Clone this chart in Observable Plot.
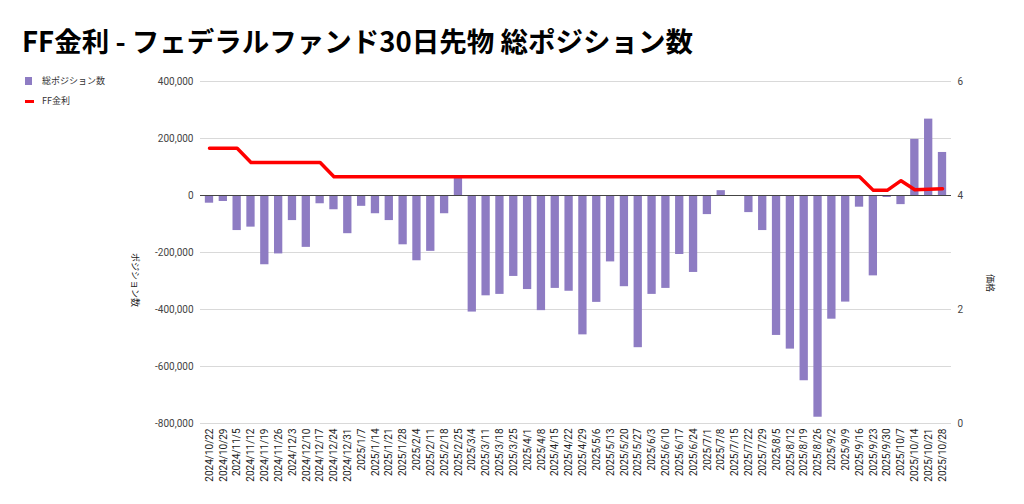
<!DOCTYPE html>
<html><head><meta charset="utf-8">
<script src="https://cdn.jsdelivr.net/npm/d3@7"></script>
<script src="https://cdn.jsdelivr.net/npm/@observablehq/plot@0.6"></script>
<style>
body{margin:0;background:#fff;}
#wrap{position:relative;width:1024px;height:504px;font-family:Roboto,"Noto Sans CJK JP",sans-serif;overflow:hidden;}
#title{position:absolute;left:22px;top:24px;font-weight:bold;font-size:27.5px;font-family:"Liberation Sans Narrow","Noto Sans CJK JP",sans-serif;color:#000;white-space:nowrap;line-height:32px;}
#chart{position:absolute;left:0;top:0;}
.leg{position:absolute;left:25px;font-size:9px;color:#333;font-family:"Noto Sans CJK JP",Roboto,sans-serif;white-space:nowrap;line-height:12px;}
.sw{position:absolute;left:0;}
.lt{position:absolute;left:17px;top:-6px;}
.atitle{position:absolute;font-size:9px;color:#222;font-family:"Noto Sans CJK JP",sans-serif;white-space:nowrap;transform:translate(-50%,-50%) rotate(90deg);}
</style>
</head>
<body>
<div id="wrap">
  <div id="chart"></div>
  <div id="title">FF金利 - フェデラルファンド30日先物 総ポジション数</div>
  <div class="leg" style="top:81px;"><div class="sw" style="top:-4px;width:7px;height:8px;background:#8e7cc3;"></div><div class="lt">総ポジション数</div></div>
  <div class="leg" style="top:101px;"><div class="sw" style="top:-1px;width:9px;height:3px;background:#ff0000;"></div><div class="lt">FF金利</div></div>
  <div class="atitle" style="left:135px;top:280px;">ポジション数</div>
  <div class="atitle" style="left:990px;top:283px;">価格</div>
</div>
<script>
const dates = ["2024/10/22","2024/10/29","2024/11/5","2024/11/12","2024/11/19","2024/11/26","2024/12/3","2024/12/10","2024/12/17","2024/12/24","2024/12/31","2025/1/7","2025/1/14","2025/1/21","2025/1/28","2025/2/4","2025/2/11","2025/2/18","2025/2/25","2025/3/4","2025/3/11","2025/3/18","2025/3/25","2025/4/1","2025/4/8","2025/4/15","2025/4/22","2025/4/29","2025/5/6","2025/5/13","2025/5/20","2025/5/27","2025/6/3","2025/6/10","2025/6/17","2025/6/24","2025/7/1","2025/7/8","2025/7/15","2025/7/22","2025/7/29","2025/8/5","2025/8/12","2025/8/19","2025/8/26","2025/9/2","2025/9/9","2025/9/16","2025/9/23","2025/9/30","2025/10/7","2025/10/14","2025/10/21","2025/10/28"];
const positions = [-27000,-21000,-123000,-111000,-243000,-205000,-88000,-182000,-29000,-50000,-134000,-38000,-64000,-88000,-173000,-229000,-196000,-64000,65000,-409000,-352000,-347000,-284000,-330000,-404000,-326000,-336000,-489000,-375000,-233000,-320000,-534000,-347000,-326000,-207000,-270000,-67000,17000,-2000,-60000,-123000,-491000,-539000,-650000,-778000,-434000,-374000,-41000,-282000,-7000,-32000,197000,268000,151000];
const ffRate = [4.83,4.83,4.83,4.58,4.58,4.58,4.58,4.58,4.58,4.33,4.33,4.33,4.33,4.33,4.33,4.33,4.33,4.33,4.33,4.33,4.33,4.33,4.33,4.33,4.33,4.33,4.33,4.33,4.33,4.33,4.33,4.33,4.33,4.33,4.33,4.33,4.33,4.33,4.33,4.33,4.33,4.33,4.33,4.33,4.33,4.33,4.33,4.33,4.09,4.09,4.26,4.10,4.11,4.12];
const leftTicks = [400000,200000,0,-200000,-400000,-600000,-800000];
const rightTicks = [6,4,2,0];

// right axis (0–6) shares the left scale: 6 ↔ 400,000, 0 ↔ -800,000
const toLeft = r => (r - 4) * 200000;
const toRight = v => v / 200000 + 4;

const data = dates.map((d, i) => ({date: d, pos: positions[i], rate: ffRate[i]}));
const fmt = d => d3.format(",")(d).replace("\u2212", "-");

const chart = Plot.plot({
  width: 1024, height: 504,
  marginTop: 81, marginBottom: 81, marginLeft: 200, marginRight: 73,
  style: {fontFamily: "Roboto, 'Noto Sans CJK JP', sans-serif", background: "transparent"},
  x: {type: "band", domain: dates, paddingInner: 0.4, paddingOuter: 0.35, label: null},
  y: {domain: [-800000, 400000], label: null},
  marks: [
    Plot.ruleY(leftTicks.filter(d => d !== 0), {stroke: "#d9d9d9", strokeWidth: 1}),
    Plot.barY(data, {x: "date", y: "pos", fill: "#8e7cc3"}),
    Plot.ruleY([0], {stroke: "#444", strokeWidth: 1}),
    Plot.lineY(data, {x: "date", y: d => toLeft(d.rate), stroke: "#ff0000", strokeWidth: 3.5, strokeLinejoin: "round"}),
    Plot.axisY(leftTicks, {anchor: "left", tickSize: 0, tickPadding: 7, tickFormat: fmt, fontSize: 10, color: "#444", label: null}),
    Plot.axisY(rightTicks.map(toLeft), {anchor: "right", tickSize: 0, tickPadding: 6, tickFormat: d => String(toRight(d)), fontSize: 10, color: "#444", label: null}),
    Plot.axisX({tickRotate: -90, tickSize: 0, tickPadding: 5, fontSize: 10, color: "#222", label: null})
  ]
});
document.getElementById("chart").appendChild(chart);
</script>
</body></html>
